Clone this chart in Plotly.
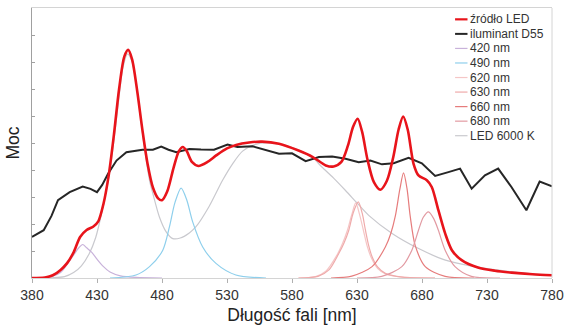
import plotly.graph_objects as go

# ---- data ----
led_x = [380, 390, 396, 402, 407, 412, 417, 422, 427, 431, 435, 439, 443, 447, 451, 454, 457, 461, 465,
         469, 473, 477, 480, 484, 489, 493, 496, 499, 503, 508, 515, 522, 530, 537, 547, 557, 570, 585,
         596, 606, 612, 618, 623, 627, 630.5, 634, 638, 643, 648, 653, 658, 662, 665.5, 669, 673.5,
         677.3, 683.7, 687.5, 692.6, 697.8, 703, 710.5, 723, 736, 749, 765, 780]
led_y = [0.0, 0.02, 0.1, 0.3, 0.55, 0.95, 1.52, 1.78, 1.9, 2.1, 2.75, 3.8, 5.3, 7.0, 8.2, 8.45, 8.1, 6.9,
         5.46, 4.2, 3.35, 2.95, 2.88, 3.2, 4.1, 4.7, 4.85, 4.7, 4.3, 4.15, 4.3, 4.55, 4.8, 4.93, 5.02,
         5.05, 4.97, 4.72, 4.48, 4.17, 4.13, 4.3, 4.9, 5.6, 5.9, 5.4, 4.4, 3.55, 3.27, 3.6, 4.5, 5.5,
         5.98, 5.5, 4.23, 3.8, 3.62, 3.37, 2.51, 1.65, 1.03, 0.66, 0.39, 0.27, 0.2, 0.14, 0.1]

d55_x = [380, 389, 395, 400, 409, 419, 425, 430, 434, 438.5, 445, 452.6, 465, 473, 479.4, 485, 491, 501,
         510, 520, 530.4, 538, 549.6, 557.2, 570, 580, 590.5, 600.7, 610.9, 621.2, 631.3, 640.3, 649.2,
         658.2, 669.7, 679.9, 690.1, 700.3, 709.3, 718.2, 728.4, 738.6, 748.8, 760.3, 770.5, 780]
d55_y = [1.52, 1.77, 2.3, 2.88, 3.18, 3.39, 3.3, 3.18, 3.45, 3.86, 4.35, 4.66, 4.75, 4.75, 4.87, 4.75,
         4.66, 4.78, 4.76, 4.75, 4.94, 4.85, 4.88, 4.78, 4.6, 4.62, 4.33, 4.48, 4.5, 4.42, 4.29, 4.35,
         4.21, 4.25, 4.45, 4.25, 3.78, 3.92, 4.05, 3.31, 3.8, 4.05, 3.37, 2.51, 3.57, 3.4]

c420_x = [380, 395, 402, 407, 412, 416, 419, 422, 426, 430, 435, 440, 448, 460, 480]
c420_y = [0, 0.05, 0.2, 0.5, 0.85, 1.12, 1.24, 1.12, 0.95, 0.7, 0.42, 0.22, 0.08, 0.02, 0]

c490_x = [440, 460, 470.4, 480.6, 485.7, 490, 494.7, 499, 503.6, 511.3, 521.5, 536.8, 560]
c490_y = [0, 0.11, 0.42, 1.03, 1.89, 2.8, 3.33, 2.9, 2.08, 1.15, 0.54, 0.11, 0]

c620_x = [585, 598, 606, 614, 619, 622.5, 626, 629, 632, 635, 638, 641, 646, 652, 665, 690]
c620_y = [0, 0.05, 0.25, 0.8, 1.3, 1.75, 2.35, 2.78, 2.35, 1.75, 1.15, 0.75, 0.35, 0.15, 0.03, 0]

c630_x = [585, 600, 608.4, 616, 620, 623.7, 627, 631, 634, 636.5, 639, 641.6, 646, 651.8, 665, 690]
c630_y = [0, 0.06, 0.3, 0.91, 1.3, 1.77, 2.4, 2.82, 2.4, 1.77, 1.2, 0.79, 0.4, 0.17, 0.03, 0]

c660_x = [610, 626, 641.6, 651.8, 656, 659.5, 663, 665.8, 668.5, 670.9, 674.8, 682.5, 697.8, 720]
c660_y = [0, 0.07, 0.42, 1.15, 1.65, 2.3, 3.3, 3.89, 3.3, 2.3, 1.2, 0.42, 0.06, 0]

c680_x = [630, 649, 664.5, 672.2, 677.3, 681, 685, 689, 692.6, 697.8, 705.4, 718, 740]
c680_y = [0, 0.06, 0.42, 1.03, 1.77, 2.25, 2.45, 2.2, 1.77, 1.03, 0.42, 0.06, 0]

c6000_x = [380, 405, 412, 418, 424, 429, 434, 440, 446, 450, 453.5, 457, 461, 466, 470.4, 473, 478,
           483.2, 488.3, 494, 501, 506, 516, 526.6, 534.3, 542, 552, 562, 575, 587, 596, 603, 612, 621,
           630, 639, 657, 677, 698, 718, 749, 780]
c6000_y = [0, 0.05, 0.2, 0.45, 0.9, 1.5, 2.5, 4.0, 6.3, 7.8, 8.3, 8.0, 6.9, 5.0, 3.62, 3.12, 2.26,
           1.71, 1.46, 1.48, 1.67, 1.89, 2.63, 3.62, 4.23, 4.7, 4.95, 5.0, 4.9, 4.7, 4.45, 4.11, 3.7,
           3.25, 2.78, 2.32, 1.65, 1.1, 0.66, 0.44, 0.23, 0.1]

x_ticks = [380, 430, 480, 530, 580, 630, 680, 730, 780]

# name, x, y, color, width, shape
series = [
    ("LED 6000 K", c6000_x, c6000_y, "#c9c9ce", 1.2, "spline"),
    ("420 nm", c420_x, c420_y, "#c8b2da", 1.2, "spline"),
    ("490 nm", c490_x, c490_y, "#8ecfec", 1.2, "spline"),
    ("620 nm", c620_x, c620_y, "#f5c6c6", 1.2, "spline"),
    ("630 nm", c630_x, c630_y, "#efaaaa", 1.2, "spline"),
    ("660 nm", c660_x, c660_y, "#e67c7c", 1.2, "spline"),
    ("680 nm", c680_x, c680_y, "#e29aa2", 1.2, "spline"),
    ("iluminant D55", d55_x, d55_y, "#262626", 2.0, "linear"),
    ("źródło LED", led_x, led_y, "#e8141b", 2.6, "spline"),
]

legend_order = ["źródło LED", "iluminant D55", "420 nm", "490 nm", "620 nm", "630 nm",
                "660 nm", "680 nm", "LED 6000 K"]

fig = go.Figure()
for name, xs, ys, col, w, shp in series:
    fig.add_trace(go.Scatter(x=xs, y=ys, mode="lines", name=name,
                             line=dict(color=col, width=w, shape=shp, smoothing=0.8),
                             showlegend=False, hoverinfo="skip"))

# custom compact legend
style = {n: (c, w) for n, _, _, c, w, _ in series}
top_y = 0.958
step = 14.6 / 271.0
shapes = []
annotations = []
for i, n in enumerate(legend_order):
    yy = top_y - i * step
    c, w = style[n]
    shapes.append(dict(type="line", xref="paper", yref="paper", x0=0.8136, x1=0.8375,
                       y0=yy, y1=yy, line=dict(color=c, width=min(w, 2.2))))
    annotations.append(dict(text=n, xref="paper", yref="paper", x=0.839, y=yy,
                            xanchor="left", yanchor="middle", showarrow=False,
                            font=dict(family="Liberation Sans, Arial", size=12, color="#333333")))

# right frame edge
shapes.append(dict(type="line", xref="paper", yref="paper", x0=1, x1=1, y0=0, y1=1,
                   line=dict(color="#d4d4d4", width=1)))

fig.update_layout(
    width=571, height=332,
    margin=dict(l=32, r=17, t=7, b=54),
    paper_bgcolor="white", plot_bgcolor="white",
    font=dict(family="Liberation Sans, Arial", color="#333333"),
    shapes=shapes, annotations=annotations,
    showlegend=False,
)
fig.update_xaxes(range=[380, 780], tickvals=x_ticks, ticktext=[str(v) for v in x_ticks],
                 ticks="outside", ticklen=4, tickcolor="#b0b0b0",
                 showline=True, linecolor="#d4d4d4", linewidth=1, mirror=True,
                 showgrid=False, zeroline=False,
                 tickfont=dict(size=14, color="#333333"),
                 title=dict(text="Długość fali [nm]", font=dict(size=17.5, color="#222222"),
                            standoff=6))
fig.update_yaxes(range=[0, 10], dtick=1, ticks="inside", ticklen=3, tickcolor="#a0a0a0",
                 showticklabels=False, showline=True, linecolor="#a0a0a0", linewidth=1.2,
                 mirror=False, showgrid=False, zeroline=False,
                 title=dict(text="Moc", font=dict(size=17.5, color="#222222"), standoff=6))

fig.write_html("out.html")
